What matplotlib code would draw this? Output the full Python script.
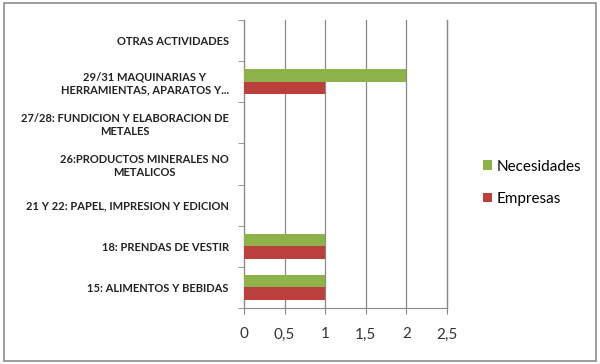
import matplotlib.pyplot as plt
import numpy as np
from matplotlib.patches import Rectangle

categorias = [
    "15: ALIMENTOS Y BEBIDAS",
    "18: PRENDAS DE VESTIR",
    "21 Y 22: PAPEL, IMPRESION Y EDICION",
    "26:PRODUCTOS MINERALES NO\nMETALICOS",
    "27/28: FUNDICION Y ELABORACION DE\nMETALES",
    "29/31 MAQUINARIAS Y\nHERRAMIENTAS, APARATOS Y...",
    "OTRAS ACTIVIDADES",
]
necesidades = [1, 1, 0, 0, 0, 2, 0]
empresas = [1, 1, 0, 0, 0, 1, 0]
ticks_x = [0, 0.5, 1, 1.5, 2, 2.5]
ticks_lbl = ["0", "0,5", "1", "1,5", "2", "2,5"]

verde = "#8fb14a"
rojo = "#bb3f3d"

plt.rcParams["font.family"] = ["Lato", "DejaVu Sans"]

fig = plt.figure(figsize=(6, 3.64), dpi=100)
fig.patches.append(Rectangle((0.006, 0.008), 0.988, 0.984, transform=fig.transFigure,
                             fill=False, edgecolor="#8c8c8c", linewidth=1.2))
ax = fig.add_axes([0.4067, 0.1538, 0.3383, 0.7912])

y = np.arange(len(categorias))
h = 0.31
ax.barh(y + h / 2, necesidades, height=h, color=verde, label="Necesidades", zorder=3)
ax.barh(y - h / 2, empresas, height=h, color=rojo, label="Empresas", zorder=3)

ax.set_xlim(0, 2.5)
ax.set_ylim(-0.5, len(categorias) - 0.5)
ax.set_xticks(ticks_x)
ax.set_xticklabels(ticks_lbl, fontsize=11, color="#333333")
ax.set_yticks(np.arange(len(categorias) + 1) - 0.5, minor=True)
ax.set_yticks(y)
ax.set_yticklabels(categorias, fontsize=8, fontweight="bold", color="#222222",
                   multialignment="center")
ax.tick_params(axis="y", which="major", length=0, pad=11)
ax.tick_params(axis="y", which="minor", length=4, color="#888888")
ax.tick_params(axis="x", length=4, color="#888888", pad=10)
ax.grid(axis="x", color="#888888", linewidth=0.9, zorder=0, clip_on=False)
ax.axvline(2.5, color="#888888", linewidth=0.9, zorder=0, clip_on=False)
for s in ["top", "right"]:
    ax.spines[s].set_visible(False)
for s in ["left", "bottom"]:
    ax.spines[s].set_color("#888888")

ax.legend(loc="center left", bbox_to_anchor=(1.11, 0.435), frameon=False, fontsize=11,
          handlelength=0.6, handleheight=0.6, handletextpad=0.3, labelspacing=1.2)

plt.savefig("out.png", dpi=100)
